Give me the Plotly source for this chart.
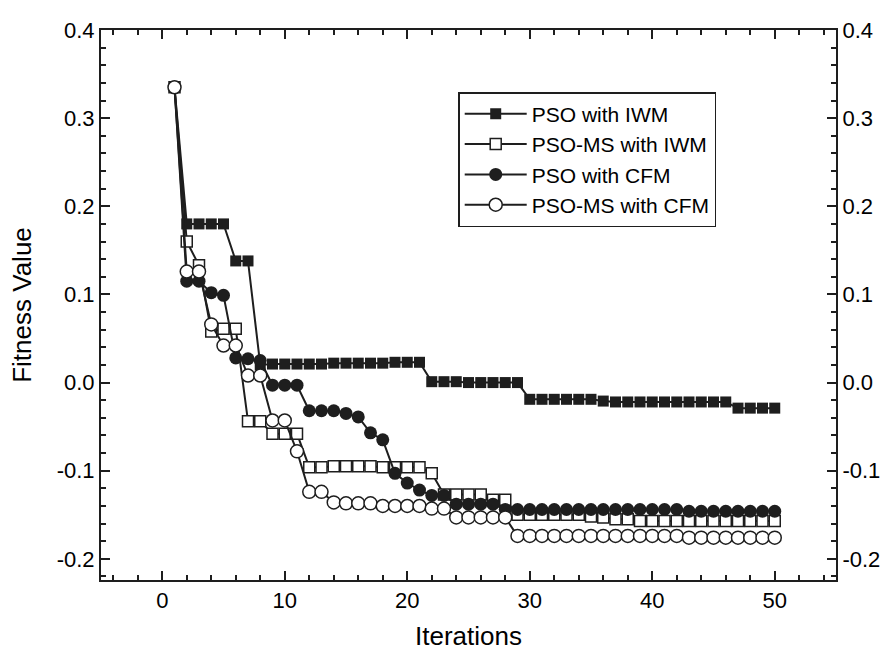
import plotly.graph_objects as go

iters = list(range(1, 51))

pso_iwm = [0.335, 0.180, 0.180, 0.180, 0.180, 0.138, 0.138,
           0.020, 0.021, 0.021, 0.021, 0.021, 0.021, 0.022, 0.022, 0.022, 0.022, 0.022, 0.023, 0.023, 0.023,
           0.001, 0.001, 0.001, 0.000, 0.000, 0.000, 0.000, 0.000,
           -0.019, -0.019, -0.019, -0.019, -0.019, -0.019, -0.021,
           -0.022, -0.022, -0.022, -0.022, -0.022, -0.022, -0.022, -0.022, -0.022, -0.022,
           -0.029, -0.029, -0.029, -0.029]

pso_ms_iwm = [0.335, 0.160, 0.133, 0.058, 0.061, 0.061, -0.044, -0.044,
              -0.058, -0.058, -0.058,
              -0.096, -0.096, -0.095, -0.095, -0.095, -0.095, -0.096, -0.096, -0.096, -0.096,
              -0.103, -0.127, -0.127, -0.127, -0.127, -0.133, -0.133,
              -0.150, -0.150, -0.150, -0.150, -0.150, -0.150, -0.152, -0.153, -0.155, -0.155,
              -0.157, -0.157, -0.157, -0.157, -0.157, -0.157, -0.157, -0.157, -0.157, -0.157, -0.157, -0.157]

pso_cfm = [0.335, 0.115, 0.115, 0.102, 0.099, 0.028, 0.027, 0.025,
           -0.003, -0.003, -0.003, -0.032, -0.032, -0.032, -0.035, -0.039,
           -0.057, -0.065, -0.103, -0.114, -0.122, -0.128, -0.128,
           -0.138, -0.138, -0.138, -0.138,
           -0.144, -0.144, -0.144, -0.144, -0.144, -0.144, -0.144, -0.144, -0.144, -0.144, -0.144, -0.144, -0.144, -0.144, -0.144,
           -0.146, -0.146, -0.146, -0.146, -0.146, -0.146, -0.146, -0.146]

pso_ms_cfm = [0.335, 0.126, 0.126, 0.066, 0.042, 0.042, 0.008, 0.008,
              -0.043, -0.043, -0.078, -0.124, -0.124, -0.136,
              -0.137, -0.137, -0.137, -0.140, -0.140, -0.140, -0.140, -0.143, -0.143,
              -0.153, -0.153, -0.153, -0.153, -0.153,
              -0.174, -0.174, -0.174, -0.174, -0.174, -0.174, -0.174, -0.174, -0.174, -0.174, -0.174, -0.174, -0.174, -0.174,
              -0.176, -0.176, -0.176, -0.176, -0.176, -0.176, -0.176, -0.176]

names = ["PSO with IWM", "PSO-MS with IWM", "PSO with CFM", "PSO-MS with CFM"]
series = [pso_iwm, pso_ms_iwm, pso_cfm, pso_ms_cfm]

y_tickvals = [-0.2, -0.1, 0.0, 0.1, 0.2, 0.3, 0.4]
y_ticktext = ["-0.2", "-0.1", "0.0", "0.1", "0.2", "0.3", "0.4"]
x_tickvals = [0, 10, 20, 30, 40, 50]
x_ticktext = ["0", "10", "20", "30", "40", "50"]

symbols = ["square", "square", "circle", "circle"]
filled = [True, False, True, False]
sizes = [11, 11, 13, 13]

FONT = "Liberation Sans, Arial, sans-serif"
INK = "#1e1e1e"

fig = go.Figure()
for i, (nm, ys) in enumerate(zip(names, series)):
    fig.add_trace(go.Scatter(
        x=iters, y=ys, name=nm, mode="lines+markers",
        line=dict(color=INK, width=2),
        marker=dict(symbol=symbols[i], size=sizes[i],
                    color=INK if filled[i] else "white",
                    line=dict(color=INK, width=0 if filled[i] else 1.5)),
    ))

# invisible trace to carry the right-hand axis
fig.add_trace(go.Scatter(x=[None], y=[None], yaxis="y2", showlegend=False, hoverinfo="skip"))

tickfont = dict(family=FONT, size=22, color="black")
ymin, ymax = -0.224, 0.4


def yax(**kw):
    d = dict(range=[ymin, ymax], tickmode="array", tickvals=y_tickvals, ticktext=y_ticktext,
             ticks="inside", ticklen=9, tickwidth=2, tickcolor=INK,
             showline=True, linewidth=2, linecolor=INK,
             showgrid=False, zeroline=False, tickfont=tickfont,
             minor=dict(tickmode="linear", tick0=0, dtick=0.02, ticks="inside", ticklen=5,
                        tickwidth=1.5, tickcolor=INK, showgrid=False))
    d.update(kw)
    return d


fig.update_layout(
    width=893, height=658,
    margin=dict(l=101, r=57, t=30, b=78),
    paper_bgcolor="white", plot_bgcolor="white",
    font=dict(family=FONT, color="black"),
    showlegend=True,
    legend=dict(x=0.486, y=0.887, xanchor="left", yanchor="top",
                bordercolor=INK, borderwidth=1.5, bgcolor="white",
                font=dict(family=FONT, size=21, color="black"),
                itemwidth=62, traceorder="normal"),
    xaxis=dict(range=[-5, 55], tickmode="array", tickvals=x_tickvals, ticktext=x_ticktext,
               ticks="inside", ticklen=9, tickwidth=2,
               tickcolor=INK, showline=True, linewidth=2, linecolor=INK,
               mirror="ticks", showgrid=False, zeroline=False, tickfont=tickfont,
               minor=dict(tickmode="linear", tick0=0, dtick=2, ticks="inside", ticklen=5,
                          tickwidth=1.5, tickcolor=INK, showgrid=False),
               title=dict(text="Iterations", font=dict(family=FONT, size=26), standoff=14)),
    yaxis=yax(title=dict(text="Fitness Value", font=dict(family=FONT, size=26), standoff=18)),
    yaxis2=yax(overlaying="y", side="right", anchor="x"),
)

fig.write_html("out.html")
